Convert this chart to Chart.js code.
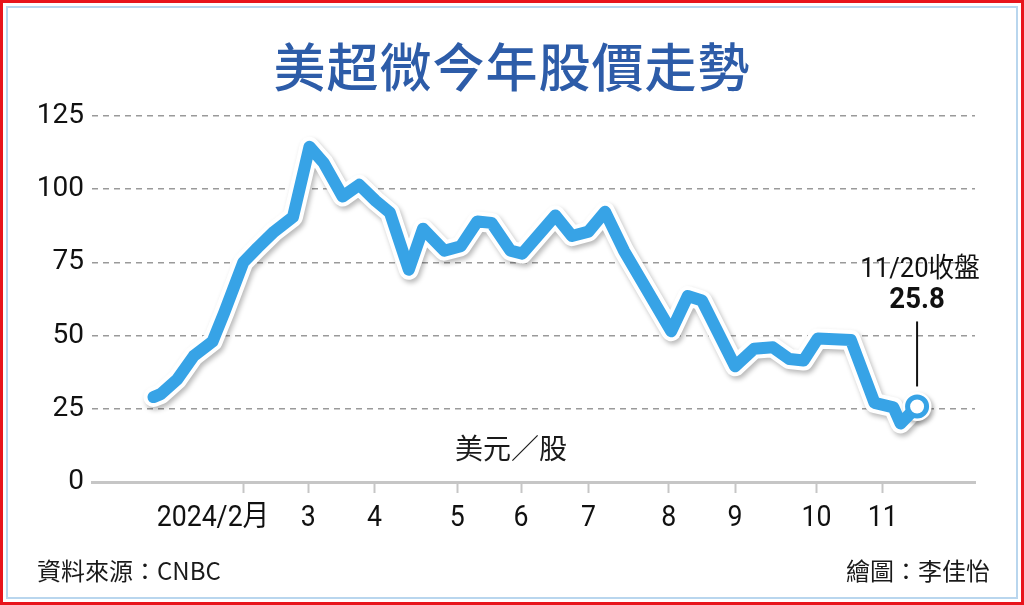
<!DOCTYPE html>
<html lang="zh-Hant">
<head>
<meta charset="utf-8">
<title>美超微今年股價走勢</title>
<script src="https://cdn.jsdelivr.net/npm/chart.js@4.4.1/dist/chart.umd.min.js"></script>
<style>
  html, body { margin: 0; padding: 0; background: #fff; }
  #frame {
    position: relative; width: 1024px; height: 605px; box-sizing: border-box;
    border: 3px solid #e8141c; overflow: hidden;
    font-family: "Noto Sans CJK TC", "Noto Sans", sans-serif;
  }
  #inner {
    position: absolute; left: 3px; top: 3px; right: 3px; bottom: 3px;
    border: 2px solid #b9d6ee;
  }
  #chart { position: absolute; left: -3px; top: -3px; }
  .txt { position: absolute; white-space: nowrap; color: #1a1a1a; }
  #title {
    left: 0; right: 0; top: 24px; text-align: center;
    font-size: 52px; font-weight: 500; color: #2d5ca8; letter-spacing: 1px;
  }
  #unit { left: 452px; top: 424px; font-size: 28px; }
  #src { left: 34px; top: 549px; font-size: 24px; }
  #author { right: 31px; top: 549px; font-size: 24px; }
</style>
</head>
<body>
<div id="frame">
  <div id="inner"></div>
  <canvas id="chart" width="1024" height="605"></canvas>
  <div class="txt" id="title">美超微今年股價走勢</div>
  <div class="txt" id="unit">美元／股</div>
  <div class="txt" id="src">資料來源：CNBC</div>
  <div class="txt" id="author">繪圖：李佳怡</div>
</div>
<script>
// ─── DATA (day of 2024, share price in USD) ─────────────────────
const priceDays = [1, 4, 11, 18, 26, 31, 39, 45, 52, 60, 67, 73, 81, 88, 95, 101, 109, 115,
  124, 131, 138, 144, 152, 157, 171, 178, 185, 192, 200, 220, 227, 233, 247, 255, 263, 270,
  276, 282, 296, 306, 314, 317, 324];
const prices = [29, 30, 35, 43, 48, 58, 75, 80, 85.5, 90.5, 114.5, 109, 97.5, 101.5, 96, 92, 72.5, 86.5,
  79, 80.5, 89, 88.5, 79, 78, 91, 84, 85.5, 92.3, 79, 51.5, 63.5, 62, 39.5, 45.5, 46, 42,
  41.5, 49, 48.5, 27, 25.5, 20, 25.8];
const monthTickDays = [39, 66.5, 94.5, 129.5, 156.5, 185, 219, 247, 281.5, 309.5];
const monthLabels = ['2024/2月', '3', '4', '5', '6', '7', '8', '9', '10', '11'];
const yTicks = [0, 25, 50, 75, 100, 125];
const closeDate = '11/20收盤';
const closePrice = '25.8';

const BLUE = '#37a3e6';
const DIGITS = 'Roboto, "Noto Sans CJK TC", sans-serif';
const lastIdx = prices.length - 1;
const points = priceDays.map((d, i) => ({ x: d, y: prices[i] }));

// ─── PLUGINS ─────────────────────────────────────────────────────
const outlineShadow = {
  id: 'outlineShadow',
  beforeDatasetDraw(chart, args) {
    if (chart.data.datasets[args.index].label !== 'outline') return;
    const ctx = chart.ctx;
    ctx.save();
    ctx.shadowColor = 'rgba(0,0,0,0.28)';
    ctx.shadowBlur = 5;
    ctx.shadowOffsetX = 2;
    ctx.shadowOffsetY = 3;
  },
  afterDatasetDraw(chart, args) {
    if (chart.data.datasets[args.index].label !== 'outline') return;
    chart.ctx.restore();
  }
};

// condensed text: draw with a horizontal squeeze
function narrowText(ctx, text, x, y, align, squeeze) {
  ctx.save();
  ctx.translate(x, y);
  ctx.scale(squeeze, 1);
  ctx.textAlign = align;
  ctx.fillText(text, 0, 0);
  ctx.restore();
}

const monthLabelsPlugin = {
  id: 'monthLabels',
  afterDraw(chart) {
    const xs = chart.scales.x, ctx = chart.ctx;
    ctx.save();
    ctx.fillStyle = '#111';
    ctx.font = '29px ' + DIGITS;
    ctx.textBaseline = 'middle';
    monthTickDays.forEach((d, i) => {
      const x = xs.getPixelForValue(d);
      if (i === 0) narrowText(ctx, monthLabels[i], x + 26, 519, 'right', 0.92);
      else narrowText(ctx, monthLabels[i], x, 519, 'center', 0.92);
    });
    ctx.restore();
  }
};

const closeNote = {
  id: 'closeNote',
  afterDatasetsDraw(chart) {
    const xs = chart.scales.x, ys = chart.scales.y, ctx = chart.ctx;
    const x = xs.getPixelForValue(priceDays[lastIdx]);
    const y = ys.getPixelForValue(prices[lastIdx]);
    ctx.save();
    ctx.strokeStyle = '#111';
    ctx.lineWidth = 2;
    ctx.beginPath();
    ctx.moveTo(x, y - 20);
    ctx.lineTo(x, y - 85);
    ctx.stroke();
    ctx.fillStyle = '#111';
    ctx.textBaseline = 'middle';
    ctx.font = '27px ' + DIGITS;
    narrowText(ctx, closeDate, x + 3, y - 136, 'center', 0.95);
    ctx.font = 'bold 29px ' + DIGITS;
    narrowText(ctx, closePrice, x, y - 106, 'center', 0.95);
    ctx.restore();
  }
};

// ─── CHART ───────────────────────────────────────────────────────
new Chart(document.getElementById('chart'), {
  type: 'line',
  data: {
    datasets: [
      {
        label: 'price',
        data: points,
        order: 1,
        borderColor: BLUE,
        borderWidth: 12,
        borderJoinStyle: 'round',
        borderCapStyle: 'round',
        tension: 0,
        clip: false,
        pointRadius: ctx => ctx.dataIndex === lastIdx ? 9.5 : 0,
        pointBackgroundColor: '#fff',
        pointBorderColor: BLUE,
        pointBorderWidth: 5
      },
      {
        label: 'outline',
        data: points,
        order: 2,
        borderColor: '#fff',
        borderWidth: 20,
        borderJoinStyle: 'round',
        borderCapStyle: 'round',
        tension: 0,
        clip: false,
        pointRadius: ctx => ctx.dataIndex === lastIdx ? 13 : 0,
        pointBackgroundColor: '#fff',
        pointBorderColor: '#fff',
        pointBorderWidth: 3
      }
    ]
  },
  options: {
    responsive: false,
    animation: false,
    events: [],
    layout: { padding: { top: 116, right: 49, bottom: 0, left: 0 } },
    plugins: { legend: { display: false }, tooltip: { enabled: false }, title: { display: false } },
    scales: {
      x: {
        type: 'linear',
        min: -25, max: 348.5,
        afterBuildTicks: s => { s.ticks = monthTickDays.map(v => ({ value: v })); },
        afterFit: s => { s.height = 123; },
        ticks: { display: false },
        grid: { drawOnChartArea: false, drawTicks: true, tickLength: 11, tickColor: '#c6c6c6', tickWidth: 2 },
        border: { display: true, color: '#c6c6c6', width: 3 }
      },
      y: {
        min: 0, max: 125,
        afterBuildTicks: s => { s.ticks = yTicks.map(v => ({ value: v })); },
        afterFit: s => { s.width = 92; },
        ticks: {
          color: '#111', padding: 8,
          font: { family: DIGITS, size: 28 }
        },
        grid: {
          drawTicks: false, lineWidth: 1.5,
          color: c => c.tick && c.tick.value === 0 ? 'rgba(0,0,0,0)' : '#9a9a9a'
        },
        border: { display: false, dash: [6, 5] }
      }
    }
  },
  plugins: [outlineShadow, monthLabelsPlugin, closeNote]
});
</script>
</body>
</html>
